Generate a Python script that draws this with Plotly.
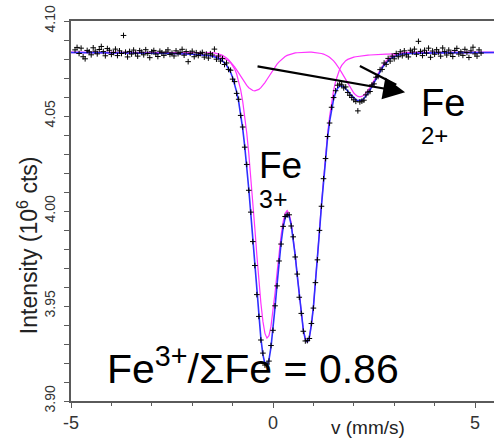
import plotly.graph_objects as go

# --- measured spectrum: velocity channels (mm/s) and counts (10^6) ---
velocity = [
    -4.90, -4.85, -4.80, -4.75, -4.70, -4.65, -4.60, -4.55, -4.50, -4.45,
    -4.40, -4.35, -4.30, -4.25, -4.20, -4.15, -4.10, -4.05, -4.00, -3.95,
    -3.90, -3.85, -3.80, -3.75, -3.70, -3.65, -3.60, -3.55, -3.50, -3.45,
    -3.40, -3.35, -3.30, -3.25, -3.20, -3.15, -3.10, -3.05, -3.00, -2.95,
    -2.90, -2.85, -2.80, -2.75, -2.70, -2.65, -2.60, -2.55, -2.50, -2.45,
    -2.40, -2.35, -2.30, -2.25, -2.20, -2.15, -2.10, -2.05, -2.00, -1.95,
    -1.90, -1.85, -1.80, -1.75, -1.70, -1.65, -1.60, -1.55, -1.50, -1.45,
    -1.40, -1.35, -1.30, -1.25, -1.20, -1.15, -1.10, -1.05, -1.00, -0.95,
    -0.90, -0.85, -0.80, -0.75, -0.70, -0.65, -0.60, -0.55, -0.50, -0.45,
    -0.40, -0.35, -0.30, -0.25, -0.20, -0.15, -0.10, -0.05, 0.00, 0.05,
    0.10, 0.15, 0.20, 0.25, 0.30, 0.35, 0.40, 0.45, 0.50, 0.55,
    0.60, 0.65, 0.70, 0.75, 0.80, 0.85, 0.90, 0.95, 1.00, 1.05,
    1.10, 1.15, 1.20, 1.25, 1.30, 1.35, 1.40, 1.45, 1.50, 1.55,
    1.60, 1.65, 1.70, 1.75, 1.80, 1.85, 1.90, 1.95, 2.00, 2.05,
    2.10, 2.15, 2.20, 2.25, 2.30, 2.35, 2.40, 2.45, 2.50, 2.55,
    2.60, 2.65, 2.70, 2.75, 2.80, 2.85, 2.90, 2.95, 3.00, 3.05,
    3.10, 3.15, 3.20, 3.25, 3.30, 3.35, 3.40, 3.45, 3.50, 3.55,
    3.60, 3.65, 3.70, 3.75, 3.80, 3.85, 3.90, 3.95, 4.00, 4.05,
    4.10, 4.15, 4.20, 4.25, 4.30, 4.35, 4.40, 4.45, 4.50, 4.55,
    4.60, 4.65, 4.70, 4.75, 4.80, 4.85, 4.90, 4.95, 5.00, 5.05,
    5.10, 5.15,
]
counts = [
    4.0848, 4.0861, 4.0829, 4.0857, 4.0812, 4.0801, 4.0845, 4.0838, 4.0822, 4.0859,
    4.0841, 4.0827, 4.0850, 4.0866, 4.0839, 4.0817, 4.0855, 4.0846, 4.0824, 4.0834,
    4.0852, 4.0818, 4.0843, 4.0829, 4.0924, 4.0836, 4.0811, 4.0840, 4.0826, 4.0847,
    4.0831, 4.0815, 4.0844, 4.0836, 4.0822, 4.0849, 4.0829, 4.0807, 4.0838, 4.0845,
    4.0826, 4.0813, 4.0841, 4.0833, 4.0819, 4.0837, 4.0848, 4.0824, 4.0831, 4.0816,
    4.0843, 4.0828, 4.0835, 4.0851, 4.0820, 4.0839, 4.0786, 4.0830, 4.0841, 4.0812,
    4.0833, 4.0818, 4.0829, 4.0835, 4.0810, 4.0826, 4.0805, 4.0828, 4.0821, 4.0852,
    4.0799, 4.0816, 4.0789, 4.0802, 4.0771, 4.0779, 4.0745, 4.0741, 4.0694, 4.0681,
    4.0619, 4.0588, 4.0503, 4.0442, 4.0336, 4.0245, 4.0109, 3.9994, 3.9839, 3.9713,
    3.9560, 3.9445, 3.9321, 3.9252, 3.9189, 3.9194, 3.9210, 3.9292, 3.9372, 3.9501,
    3.9606, 3.9737, 3.9826, 3.9919, 3.9971, 3.9979, 3.9980, 3.9921, 3.9864, 3.9758,
    3.9668, 3.9546, 3.9461, 3.9367, 3.9316, 3.9318, 3.9329, 3.9408, 3.9489, 3.9623,
    3.9743, 3.9898, 4.0025, 4.0170, 4.0276, 4.0392, 4.0463, 4.0546, 4.0597, 4.0633,
    4.0662, 4.0668, 4.0664, 4.0648, 4.0653, 4.0624, 4.0609, 4.0598, 4.0585, 4.0577,
    4.0527, 4.0574, 4.0578, 4.0583, 4.0611, 4.0626, 4.0629, 4.0664, 4.0669, 4.0704,
    4.0708, 4.0744, 4.0745, 4.0779, 4.0772, 4.0803, 4.0789, 4.0815, 4.0801, 4.0829,
    4.0812, 4.0838, 4.0817, 4.0843, 4.0822, 4.0811, 4.0846, 4.0837, 4.0852, 4.0825,
    4.0893, 4.0840, 4.0818, 4.0846, 4.0831, 4.0857, 4.0809, 4.0842, 4.0825, 4.0849,
    4.0836, 4.0815, 4.0858, 4.0839, 4.0821, 4.0847, 4.0830, 4.0813, 4.0845, 4.0856,
    4.0826, 4.0838, 4.0819, 4.0851, 4.0834, 4.0808, 4.0843, 4.0862, 4.0827, 4.0815,
    4.0848, 4.0831,
]

# --- fitted curves: total envelope and the two iron sub-spectra ---
fit_v = [
    -5.00, -4.00, -3.00, -2.50, -2.00, -1.90, -1.80, -1.70, -1.60, -1.55,
    -1.50, -1.45, -1.40, -1.35, -1.30, -1.25, -1.20, -1.15, -1.10, -1.05,
    -1.00, -0.95, -0.90, -0.85, -0.80, -0.75, -0.70, -0.65, -0.60, -0.55,
    -0.50, -0.45, -0.40, -0.35, -0.30, -0.25, -0.20, -0.15, -0.10, -0.05,
    0.00, 0.05, 0.10, 0.15, 0.20, 0.25, 0.30, 0.35, 0.40, 0.45,
    0.50, 0.55, 0.60, 0.65, 0.70, 0.75, 0.80, 0.85, 0.90, 0.95,
    1.00, 1.05, 1.10, 1.15, 1.20, 1.25, 1.30, 1.35, 1.40, 1.45,
    1.50, 1.55, 1.60, 1.65, 1.70, 1.75, 1.80, 1.85, 1.90, 1.95,
    2.00, 2.05, 2.10, 2.15, 2.20, 2.25, 2.30, 2.35, 2.40, 2.45,
    2.50, 2.55, 2.60, 2.65, 2.70, 2.75, 2.80, 2.85, 2.90, 2.95,
    3.00, 3.10, 3.20, 3.30, 3.40, 4.00, 5.00, 5.50,
]
fit_total = [
    4.0834, 4.0833, 4.0831, 4.0829, 4.0825, 4.0824, 4.0822, 4.0821, 4.0818, 4.0817,
    4.0814, 4.0812, 4.0808, 4.0804, 4.0798, 4.0790, 4.0780, 4.0767, 4.0751, 4.0730,
    4.0703, 4.0670, 4.0627, 4.0575, 4.0510, 4.0433, 4.0341, 4.0236, 4.0116, 3.9986,
    3.9847, 3.9705, 3.9566, 3.9437, 3.9328, 3.9244, 3.9196, 3.9186, 3.9217, 3.9284,
    3.9379, 3.9492, 3.9613, 3.9729, 3.9832, 3.9912, 3.9964, 3.9985, 3.9972, 3.9928,
    3.9857, 3.9765, 3.9660, 3.9553, 3.9454, 3.9374, 3.9324, 3.9310, 3.9336, 3.9400,
    3.9495, 3.9615, 3.9750, 3.9891, 4.0031, 4.0163, 4.0282, 4.0385, 4.0470, 4.0538,
    4.0589, 4.0624, 4.0646, 4.0657, 4.0659, 4.0654, 4.0644, 4.0632, 4.0618, 4.0606,
    4.0594, 4.0586, 4.0581, 4.0581, 4.0584, 4.0592, 4.0603, 4.0619, 4.0636, 4.0656,
    4.0676, 4.0696, 4.0716, 4.0735, 4.0752, 4.0767, 4.0780, 4.0791, 4.0800, 4.0807,
    4.0813, 4.0821, 4.0826, 4.0828, 4.0829, 4.0832, 4.0834, 4.0834,
]
fit_fe3 = [
    4.0834, 4.0833, 4.0831, 4.0829, 4.0825, 4.0824, 4.0823, 4.0821, 4.0819, 4.0818,
    4.0817, 4.0816, 4.0814, 4.0813, 4.0810, 4.0807, 4.0803, 4.0798, 4.0791, 4.0781,
    4.0767, 4.0748, 4.0721, 4.0685, 4.0638, 4.0577, 4.0502, 4.0411, 4.0303, 4.0182,
    4.0049, 3.9909, 3.9768, 3.9634, 3.9515, 3.9419, 3.9356, 3.9331, 3.9344, 3.9394,
    3.9473, 3.9570, 3.9676, 3.9780, 3.9872, 3.9943, 3.9988, 4.0002, 3.9985, 3.9937,
    3.9863, 3.9769, 3.9663, 3.9555, 3.9455, 3.9375, 3.9324, 3.9310, 3.9336, 3.9400,
    3.9496, 3.9617, 3.9753, 3.9896, 4.0038, 4.0173, 4.0296, 4.0405, 4.0497, 4.0574,
    4.0635, 4.0683, 4.0719, 4.0746, 4.0766, 4.0781, 4.0791, 4.0798, 4.0803, 4.0807,
    4.0810, 4.0812, 4.0814, 4.0816, 4.0817, 4.0818, 4.0819, 4.0820, 4.0821, 4.0822,
    4.0823, 4.0823, 4.0824, 4.0824, 4.0825, 4.0826, 4.0826, 4.0826, 4.0827, 4.0827,
    4.0827, 4.0828, 4.0829, 4.0829, 4.0829, 4.0832, 4.0834, 4.0834,
]
fit_fe2 = [
    4.0836, 4.0836, 4.0836, 4.0836, 4.0836, 4.0836, 4.0836, 4.0835, 4.0835, 4.0834,
    4.0833, 4.0832, 4.0830, 4.0827, 4.0823, 4.0819, 4.0813, 4.0805, 4.0796, 4.0785,
    4.0773, 4.0758, 4.0743, 4.0726, 4.0709, 4.0692, 4.0676, 4.0661, 4.0649, 4.0640,
    4.0634, 4.0632, 4.0634, 4.0640, 4.0649, 4.0661, 4.0676, 4.0692, 4.0709, 4.0726,
    4.0743, 4.0758, 4.0773, 4.0785, 4.0796, 4.0805, 4.0813, 4.0819, 4.0823, 4.0827,
    4.0830, 4.0832, 4.0833, 4.0834, 4.0835, 4.0835, 4.0835, 4.0836, 4.0836, 4.0836,
    4.0835, 4.0834, 4.0833, 4.0831, 4.0829, 4.0826, 4.0822, 4.0816, 4.0809, 4.0801,
    4.0790, 4.0777, 4.0763, 4.0746, 4.0728, 4.0709, 4.0690, 4.0670, 4.0651, 4.0635,
    4.0621, 4.0610, 4.0603, 4.0601, 4.0603, 4.0610, 4.0621, 4.0635, 4.0651, 4.0670,
    4.0690, 4.0709, 4.0728, 4.0746, 4.0763, 4.0777, 4.0790, 4.0801, 4.0809, 4.0816,
    4.0822, 4.0829, 4.0833, 4.0835, 4.0835, 4.0836, 4.0836, 4.0836,
]

x_ticks = [-5, 0, 5]
x_tick_text = ["-5", "0", "5"]
y_ticks = [3.90, 3.95, 4.00, 4.05, 4.10]
y_tick_text = ["3.90", "3.95", "4.00", "4.05", "4.10"]

FONT = "Liberation Sans, Arial, Helvetica, sans-serif"
AXIS_GREY = "#5a5a5a"

fig = go.Figure()

# sub-spectra first so the envelope sits on top
fig.add_trace(go.Scatter(x=fit_v, y=fit_fe2, mode="lines",
                         line=dict(color="#ff33ff", width=1.2), hoverinfo="skip"))
fig.add_trace(go.Scatter(x=fit_v, y=fit_fe3, mode="lines",
                         line=dict(color="#ff33ff", width=1.2), hoverinfo="skip"))
fig.add_trace(go.Scatter(x=fit_v, y=fit_total, mode="lines",
                         line=dict(color="#3030ff", width=1.6), hoverinfo="skip"))
fig.add_trace(go.Scatter(x=velocity, y=counts, mode="markers",
                         marker=dict(symbol="cross-thin", size=4, color="black",
                                     line=dict(color="black", width=1))))

fig.update_layout(
    width=494, height=443,
    margin=dict(l=71, r=0, t=21, b=42),
    paper_bgcolor="white", plot_bgcolor="white",
    showlegend=False,
    font=dict(family=FONT, color="#222222"),
    xaxis=dict(
        range=[-5, 5.47], tickvals=x_ticks, ticktext=x_tick_text,
        showgrid=False, zeroline=False,
        showline=True, linecolor=AXIS_GREY, linewidth=1.5, mirror=True,
        ticks="outside", ticklen=5, tickwidth=1, tickcolor=AXIS_GREY,
        tickfont=dict(size=18, family=FONT, color="#333333"),
        minor=dict(dtick=1, ticks="outside", ticklen=3, tickcolor=AXIS_GREY),
    ),
    yaxis=dict(
        range=[3.90, 4.10], tickvals=y_ticks, ticktext=y_tick_text,
        showgrid=False, zeroline=False,
        showline=True, linecolor=AXIS_GREY, linewidth=1.5,
        ticks="outside", ticklen=5, tickwidth=1, tickcolor=AXIS_GREY,
        tickangle=-90, ticklabelstandoff=4,
        tickfont=dict(size=14, family=FONT, color="#333333"),
        minor=dict(dtick=0.01, ticks="outside", ticklen=5, tickcolor=AXIS_GREY),
    ),
)

# axis titles
fig.add_annotation(x=0.702, y=-0.071, xref="paper", yref="paper",
                   text="v (mm/s)", showarrow=False,
                   xanchor="center", yanchor="middle",
                   font=dict(size=19, family=FONT, color="#222222"))
fig.add_annotation(x=-0.1017, y=0.41, xref="paper", yref="paper",
                   text="Intensity (10<sup>6</sup> cts)", showarrow=False,
                   textangle=-90, xanchor="center", yanchor="middle",
                   font=dict(size=23, family=FONT, color="#222222"))

# arrows pointing at the ferrous doublet line
fig.add_annotation(x=3.27, y=4.0625, ax=-0.42, ay=4.0763, axref="x", ayref="y",
                   xref="x", yref="y", text="", showarrow=True,
                   arrowhead=2, arrowsize=2.0, arrowwidth=2.2, arrowcolor="black")
fig.add_shape(type="line", x0=2.15, y0=4.0763, x1=3.05, y1=4.0665,
              xref="x", yref="y", line=dict(color="black", width=2.2))

labels = [
    dict(text="Fe", x=3.64, y=4.0570, size=38),
    dict(text="2+", x=3.64, y=4.0400, size=24),
    dict(text="Fe", x=-0.37, y=4.0240, size=37),
    dict(text="3+", x=-0.37, y=4.0065, size=25),
]
for lab in labels:
    fig.add_annotation(x=lab["x"], y=lab["y"], xref="x", yref="y", text=lab["text"],
                       showarrow=False, xanchor="left", yanchor="middle", borderpad=0,
                       font=dict(size=lab["size"], family=FONT, color="black"))

fig.add_annotation(x=-4.16, y=3.9185, xref="x", yref="y",
                   text="Fe<sup>3+</sup>/ΣFe = 0.86", showarrow=False,
                   xanchor="left", yanchor="middle",
                   font=dict(size=41, family=FONT, color="black"))

fig.write_html("out.html")
